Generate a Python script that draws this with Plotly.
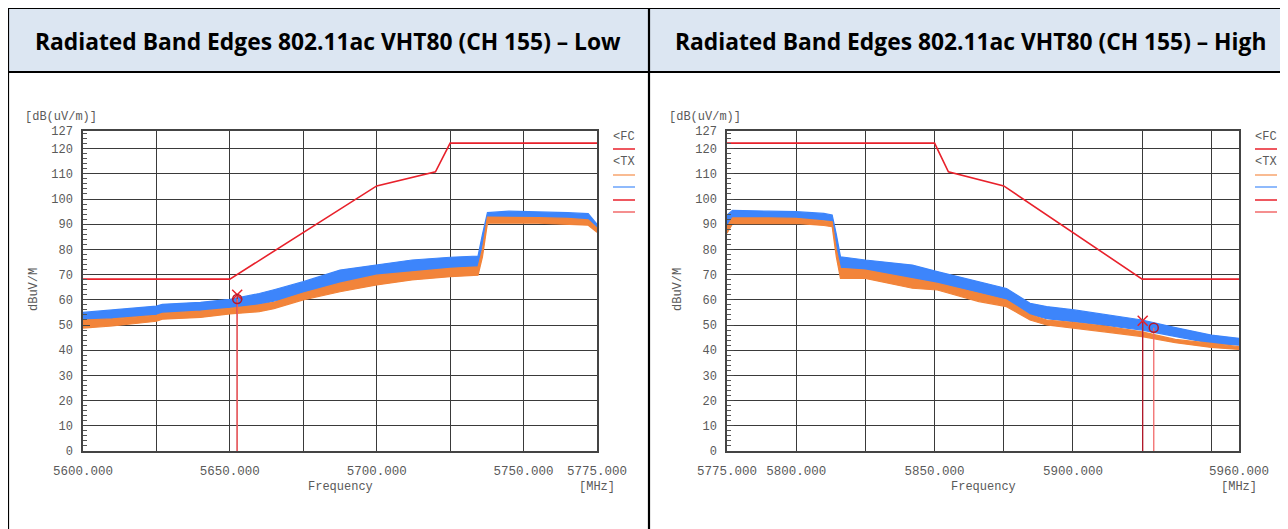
import plotly.graph_objects as go

W, H = 1288, 529
OX, OY = 8, 8  # page body margin of the browser

# ---------------- data ----------------
# Left chart (Low band edge)
low_freq = [5600, 5610, 5625, 5627, 5640, 5650, 5660, 5665, 5675, 5687.5, 5700, 5712, 5725,
            5734.5, 5736, 5737.7, 5745, 5755, 5765, 5772, 5775]
low_blue_hi = [55.0, 56.0, 57.5, 58.2, 59.0, 60.2, 62.5, 64.0, 67.2, 71.8, 73.8, 75.8, 76.9,
               77.4, 86.0, 94.6, 95.2, 95.0, 94.6, 94.2, 90.0]
low_blue_lo = [51.0, 52.6, 54.0, 54.8, 55.5, 56.7, 58.0, 59.5, 61.2, 65.9, 68.5, 70.5, 71.8,
               72.5, 82.0, 92.3, 92.3, 92.2, 92.0, 91.5, 87.5]
low_orange_hi = [52.0, 52.4, 53.8, 54.6, 55.5, 56.6, 58.0, 59.0, 62.7, 66.6, 69.8, 71.2, 72.5,
                 73.1, 80.0, 92.8, 92.8, 92.6, 92.3, 91.7, 88.5]
low_orange_lo = [48.8, 49.6, 51.5, 52.3, 53.0, 54.4, 55.3, 56.5, 60.0, 63.2, 65.9, 67.9, 69.2,
                 69.8, 77.0, 90.4, 90.4, 90.4, 90.0, 89.6, 86.8]
low_limit_freq = [5600, 5650, 5700, 5720, 5725, 5775]
low_limit_val = [68.2, 68.2, 105.2, 110.8, 122.2, 122.2]
low_marker_x = (5652.5, 62.0)
low_marker_o = (5652.5, 60.3)
low_xtick_vals = [5600, 5625, 5650, 5675, 5700, 5725, 5750, 5775]
low_xtick_text = ["5600.000", "", "5650.000", "", "5700.000", "", "5750.000", "5775.000"]

# Right chart (High band edge)
high_freq = [5775, 5777, 5790, 5800, 5810, 5813, 5814.5, 5816, 5825, 5842, 5851, 5866, 5876,
             5884.5, 5890.5, 5900.5, 5912, 5925, 5937, 5950, 5960]
high_blue_hi = [93.7, 95.5, 95.2, 95.0, 94.3, 93.7, 86.0, 77.1, 75.8, 73.8, 71.2, 67.2, 64.5,
                58.6, 57.3, 56.0, 54.0, 52.0, 49.0, 46.0, 44.7]
high_blue_lo = [89.0, 92.3, 92.4, 92.3, 91.6, 91.2, 82.0, 72.5, 71.2, 68.5, 66.5, 62.6, 59.9,
                54.2, 52.5, 51.3, 49.8, 48.0, 45.3, 42.7, 42.0]
high_orange_hi = [89.0, 92.5, 92.5, 92.3, 91.3, 91.0, 80.0, 72.5, 71.8, 68.5, 66.5, 62.6, 59.9,
                  54.0, 52.0, 51.0, 49.5, 47.3, 44.3, 42.7, 41.4]
high_orange_lo = [86.4, 90.2, 90.3, 90.3, 89.5, 89.0, 77.0, 68.5, 68.5, 64.6, 63.9, 59.3, 57.3,
                  52.0, 50.0, 48.7, 47.2, 45.4, 43.0, 41.1, 40.3]
high_limit_freq = [5775, 5850, 5855, 5875, 5925, 5960]
high_limit_val = [122.2, 122.2, 110.8, 105.2, 68.2, 68.2]
high_marker_x = (5925.2, 51.7)
high_marker_o = (5929.2, 48.9)
high_xtick_vals = [5775, 5800, 5825, 5850, 5875, 5900, 5925, 5950, 5960]
high_xtick_text = ["5775.000", "5800.000", "", "5850.000", "", "5900.000", "", "", "5960.000"]

ytick_vals = [0, 10, 20, 30, 40, 50, 60, 70, 80, 90, 100, 110, 120, 127]
ytick_text = [str(v) for v in ytick_vals]

titles = ["Radiated Band Edges 802.11ac VHT80 (CH 155) \u2013 Low",
          "Radiated Band Edges 802.11ac VHT80 (CH 155) \u2013 High"]

# ---------------- style ----------------
BLUE = "#3d85fb"
ORANGE = "#f2843a"
RED = "#e8212b"
DARKRED = "#b5182a"
LIGHTRED = "#f26a6a"
GRID = "#3a3a3a"
TXT = "#5a5a5a"
MONO = "Liberation Mono"


def px(x):
    return (x - OX) / W


def py(y):
    return 1 - (y - OY) / H


fig = go.Figure()


def band(xref, yref, f, hi, lo, color):
    xs = list(f) + list(f)[::-1]
    ys = list(hi) + list(lo)[::-1]
    fig.add_trace(go.Scatter(x=xs, y=ys, xaxis=xref, yaxis=yref, mode="lines",
                             fill="toself", fillcolor=color,
                             line=dict(color=color, width=1.2),
                             hoverinfo="skip", showlegend=False))


def chart(xref, yref, f, bhi, blo, ohi, olo, lf, lv, mx, mo):
    band(xref, yref, f, bhi, blo, BLUE)
    band(xref, yref, f, ohi, olo, ORANGE)
    fig.add_trace(go.Scatter(x=lf, y=lv, xaxis=xref, yaxis=yref, mode="lines",
                             line=dict(color=RED, width=1.6), hoverinfo="skip",
                             showlegend=False))
    fig.add_trace(go.Scatter(x=[mx[0], mx[0]], y=[mx[1], 0], xaxis=xref, yaxis=yref,
                             mode="lines", line=dict(color=DARKRED, width=1.3),
                             hoverinfo="skip", showlegend=False))
    fig.add_trace(go.Scatter(x=[mo[0], mo[0]], y=[mo[1], 0], xaxis=xref, yaxis=yref,
                             mode="lines", line=dict(color=LIGHTRED, width=1.3),
                             hoverinfo="skip", showlegend=False))
    fig.add_trace(go.Scatter(x=[mx[0]], y=[mx[1]], xaxis=xref, yaxis=yref, mode="markers",
                             marker=dict(symbol="x-thin", size=10,
                                         line=dict(color=RED, width=1.5)),
                             hoverinfo="skip", showlegend=False))
    fig.add_trace(go.Scatter(x=[mo[0]], y=[mo[1]], xaxis=xref, yaxis=yref, mode="markers",
                             marker=dict(symbol="circle-open", size=9, color=DARKRED,
                                         line=dict(color=DARKRED, width=1.5)),
                             hoverinfo="skip", showlegend=False))


chart("x", "y", low_freq, low_blue_hi, low_blue_lo, low_orange_hi, low_orange_lo,
      low_limit_freq, low_limit_val, low_marker_x, low_marker_o)
chart("x2", "y2", high_freq, high_blue_hi, high_blue_lo, high_orange_hi, high_orange_lo,
      high_limit_freq, high_limit_val, high_marker_x, high_marker_o)

plot_top, plot_bot = 131, 451
panels = [(83, 597, low_freq, low_xtick_vals, low_xtick_text),
          (727, 1239, high_freq, high_xtick_vals, high_xtick_text)]

layout_axes = {}
for i, (x0, x1, f, tv, tt) in enumerate(panels):
    sfx = "" if i == 0 else str(i + 1)
    layout_axes["xaxis" + sfx] = dict(
        domain=[px(x0), px(x1)], range=[f[0], f[-1]], anchor="y" + sfx,
        tickvals=tv, ticktext=tt, showgrid=True, gridcolor=GRID, gridwidth=1.3,
        showline=True, linecolor="#444", linewidth=1.5, mirror=True, zeroline=False,
        ticks="", ticklabelstandoff=7, automargin=False,
        tickfont=dict(family=MONO, size=12.5, color=TXT), fixedrange=True)
    layout_axes["yaxis" + sfx] = dict(
        domain=[py(plot_bot), py(plot_top)], range=[0, 127], anchor="x" + sfx,
        tickvals=ytick_vals, ticktext=ytick_text, showgrid=True, gridcolor=GRID,
        gridwidth=1.3, showline=True, linecolor="#444", linewidth=1.5, mirror=True,
        zeroline=False, ticks="inside", ticklen=7, tickcolor="#444",
        ticklabelstandoff=6, automargin=False,
        minor=dict(dtick=2, tick0=0, ticks="inside", ticklen=4, tickcolor="#555",
                   showgrid=False),
        tickfont=dict(family=MONO, size=12, color=TXT), fixedrange=True)

fig.update_layout(**layout_axes)

shapes = []
ann = []

shapes.append(dict(type="rect", xref="paper", yref="paper", x0=px(8), x1=px(1300),
                   y0=py(72), y1=py(8), fillcolor="#dce6f2", line=dict(width=0),
                   layer="below"))
for (xa, ya, xb, yb) in [(8, 8, 1300, 8), (8, 72, 1300, 72), (8, 8, 8, 540),
                         (649, 8, 649, 540)]:
    shapes.append(dict(type="line", xref="paper", yref="paper", x0=px(xa), x1=px(xb),
                       y0=py(ya), y1=py(yb), line=dict(color="black", width=2.2)))

for i, cx in enumerate([328, 970]):
    ann.append(dict(text=titles[i], xref="paper", yref="paper", x=px(cx), y=py(41),
                    xanchor="center", yanchor="middle", showarrow=False,
                    font=dict(family="Open Sans", size=22.8, color="black", weight="bold")))

for i, (x0, x1, f, tv, tt) in enumerate(panels):
    ann.append(dict(text="[dB(uV/m)]", xref="paper", yref="paper", x=px(x0 - 60),
                    y=py(117), xanchor="left", yanchor="middle", showarrow=False,
                    font=dict(family=MONO, size=12, color=TXT)))
    ann.append(dict(text="dBuV/M", xref="paper", yref="paper", x=px(x0 - 49),
                    y=py(290), xanchor="center", yanchor="middle", showarrow=False,
                    textangle=-90, font=dict(family=MONO, size=12, color=TXT)))
    ann.append(dict(text="Frequency", xref="paper", yref="paper",
                    x=px(x0 + (x1 - x0) * 0.5), y=py(487),
                    xanchor="center", yanchor="middle", showarrow=False,
                    font=dict(family=MONO, size=12, color=TXT)))
    ann.append(dict(text="[MHz]", xref="paper", yref="paper", x=px(x1), y=py(487),
                    xanchor="center", yanchor="middle", showarrow=False,
                    font=dict(family=MONO, size=12, color=TXT)))
    lx0 = x1 + 16
    lx1 = x1 + 38
    ann.append(dict(text="&lt;FC", xref="paper", yref="paper", x=px(lx0 - 2), y=py(137),
                    xanchor="left", yanchor="middle", showarrow=False,
                    font=dict(family=MONO, size=12, color=TXT)))
    ann.append(dict(text="&lt;TX", xref="paper", yref="paper", x=px(lx0 - 2), y=py(162),
                    xanchor="left", yanchor="middle", showarrow=False,
                    font=dict(family=MONO, size=12, color=TXT)))
    for yy, col in [(149, RED), (175, "#f7a56e"), (187, "#6aa3fb"), (200, RED),
                    (212, LIGHTRED)]:
        shapes.append(dict(type="line", xref="paper", yref="paper", x0=px(lx0), x1=px(lx1),
                           y0=py(yy), y1=py(yy), line=dict(color=col, width=1.5)))

fig.update_layout(width=W, height=H,
                  margin=dict(l=0, r=0, t=0, b=0, pad=0, autoexpand=False),
                  paper_bgcolor="white", plot_bgcolor="white", showlegend=False,
                  shapes=shapes, annotations=ann)

fig.write_html("out.html")
